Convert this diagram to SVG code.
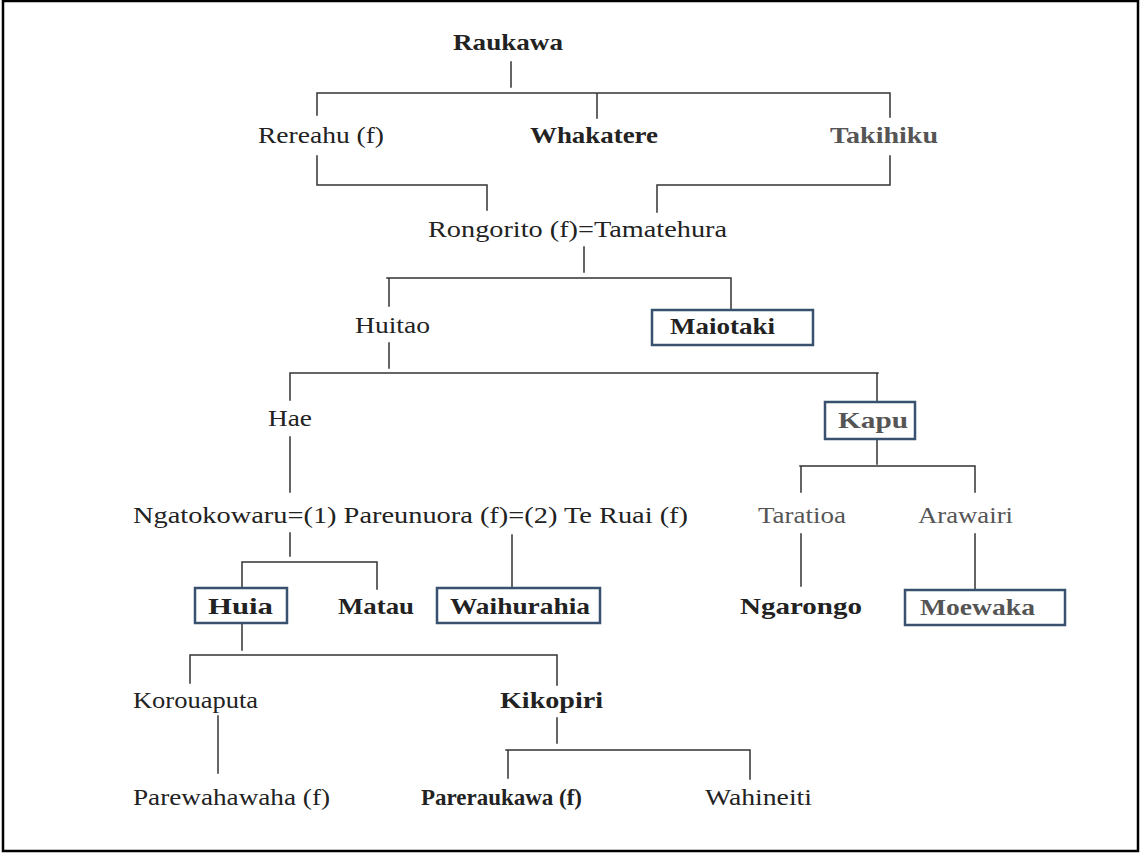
<svg xmlns="http://www.w3.org/2000/svg" width="1140" height="854" viewBox="0 0 1140 854">
  <style>
    .t { font-family: "Liberation Serif", "DejaVu Serif", serif; font-size: 24px; fill: #222; }
    .b { font-weight: bold; }
    .g { fill: #555; }
    .box { fill: none; stroke: #37516f; stroke-width: 2.5; }
    .ln { stroke: #333; stroke-width: 1.5; fill: none; stroke-linecap: square; }
  </style>
  <rect x="0" y="0" width="1140" height="854" fill="#fff"/>
  <rect x="3" y="1" width="1135" height="850" fill="none" stroke="#000" stroke-width="2.5"/>

  <!-- descent lines -->
  <g id="connectors" class="ln">
    <path d="M511 62V87 M317 93H890 M317 93V115 M597 93V118 M890 93V117"/>
    <path d="M317 156V184 M317 185H487 V210"/>
    <path d="M890 156V184 M890 185H657 V212"/>
    <path d="M584 247V272 M387 278H731 M389 278V306 M731 278V309"/>
    <path d="M389 343V368 M290 373H878 M290 373V400 M877 373V402"/>
    <path d="M877 439V464 M800 466H975 M801 466V492 M975 466V492"/>
    <path d="M801 534V586 M975 534V590"/>
    <path d="M290 437V492 M290 533V556 M242 562H377 M242 562V588 M377 562V589"/>
    <path d="M512 535V587"/>
    <path d="M242 623V650 M190 655H557 M190 655V683 M557 655V685"/>
    <path d="M218 716V773"/>
    <path d="M557 718V743 M506 750H750 M508 750V778 M750 750V779"/>
  </g>

  <g id="raukawa"><text class="t b" x="453" y="50" textLength="110" lengthAdjust="spacingAndGlyphs">Raukawa</text></g>
  <g id="rereahu"><text class="t" x="258" y="143" textLength="126" lengthAdjust="spacingAndGlyphs">Rereahu (f)</text></g>
  <g id="whakatere"><text class="t b" x="530" y="143" textLength="128" lengthAdjust="spacingAndGlyphs">Whakatere</text></g>
  <g id="takihiku"><text class="t b g" x="830" y="143" textLength="108" lengthAdjust="spacingAndGlyphs">Takihiku</text></g>
  <g id="rongorito-tamatehura"><text class="t" x="428" y="237" textLength="299" lengthAdjust="spacingAndGlyphs">Rongorito (f)=Tamatehura</text></g>
  <g id="huitao"><text class="t" x="355" y="333" textLength="75" lengthAdjust="spacingAndGlyphs">Huitao</text></g>
  <g id="maiotaki">
    <rect class="box" x="652" y="310" width="161" height="35"/>
    <text class="t b" x="670" y="334" textLength="105" lengthAdjust="spacingAndGlyphs">Maiotaki</text>
  </g>
  <g id="hae"><text class="t" x="268" y="426" textLength="44" lengthAdjust="spacingAndGlyphs">Hae</text></g>
  <g id="kapu">
    <rect class="box" x="825" y="402" width="90" height="37"/>
    <text class="t b g" x="838" y="428" textLength="70" lengthAdjust="spacingAndGlyphs">Kapu</text>
  </g>
  <g id="ngatokowaru-pareunuora-teruai"><text class="t" x="133" y="523" textLength="555" lengthAdjust="spacingAndGlyphs">Ngatokowaru=(1) Pareunuora (f)=(2) Te Ruai (f)</text></g>
  <g id="taratioa"><text class="t g" x="758" y="523" textLength="88" lengthAdjust="spacingAndGlyphs">Taratioa</text></g>
  <g id="arawairi"><text class="t g" x="918" y="523" textLength="95" lengthAdjust="spacingAndGlyphs">Arawairi</text></g>
  <g id="huia">
    <rect class="box" x="195" y="588" width="92" height="35"/>
    <text class="t b" x="208" y="614" textLength="65" lengthAdjust="spacingAndGlyphs">Huia</text>
  </g>
  <g id="matau"><text class="t b" x="338" y="614" textLength="76" lengthAdjust="spacingAndGlyphs">Matau</text></g>
  <g id="waihurahia">
    <rect class="box" x="437" y="588" width="163" height="35"/>
    <text class="t b" x="450" y="614" textLength="140" lengthAdjust="spacingAndGlyphs">Waihurahia</text>
  </g>
  <g id="ngarongo"><text class="t b" x="740" y="614" textLength="122" lengthAdjust="spacingAndGlyphs">Ngarongo</text></g>
  <g id="moewaka">
    <rect class="box" x="905" y="590" width="160" height="35"/>
    <text class="t b g" x="920" y="615" textLength="115" lengthAdjust="spacingAndGlyphs">Moewaka</text>
  </g>
  <g id="korouaputa"><text class="t" x="133" y="708" textLength="125" lengthAdjust="spacingAndGlyphs">Korouaputa</text></g>
  <g id="kikopiri"><text class="t b" x="500" y="708" textLength="103" lengthAdjust="spacingAndGlyphs">Kikopiri</text></g>
  <g id="parewahawaha"><text class="t" x="133" y="805" textLength="197" lengthAdjust="spacingAndGlyphs">Parewahawaha (f)</text></g>
  <g id="pareraukawa"><text class="t b" x="421" y="805" textLength="161" lengthAdjust="spacingAndGlyphs">Pareraukawa (f)</text></g>
  <g id="wahineiti"><text class="t" x="705" y="805" textLength="107" lengthAdjust="spacingAndGlyphs">Wahineiti</text></g>
</svg>
